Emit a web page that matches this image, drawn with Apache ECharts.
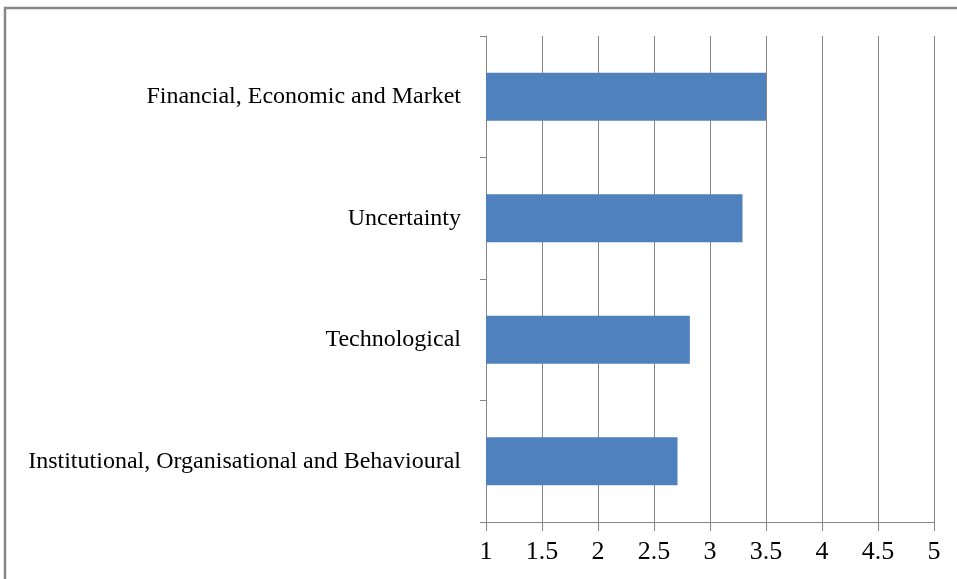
<!DOCTYPE html>
<html>
<head>
<meta charset="utf-8">
<script src="https://cdn.jsdelivr.net/npm/echarts@6/dist/echarts.min.js"></script>
<style>html,body{margin:0;padding:0;background:#fff}#c{width:957px;height:579px}</style>
</head>
<body>
<div id="c"></div>
<script>
const categories = ["Financial, Economic and Market", "Uncertainty", "Technological", "Institutional, Organisational and Behavioural"];
const values = [3.5, 3.29, 2.82, 2.71];
const xMin = 1, xMax = 5, xStep = 0.5;

const chart = echarts.init(document.getElementById('c'), null, {renderer: 'canvas'});
chart.setOption({
  animation: false,
  backgroundColor: '#fff',
  graphic: [{
    type: 'rect',
    shape: {x: 5, y: 8, width: 1000, height: 700},
    style: {fill: 'none', stroke: '#878787', lineWidth: 2.5},
    silent: true
  }],
  grid: {left: 486, right: 23, top: 36, bottom: 57, containLabel: false},
  xAxis: {
    type: 'value', min: xMin, max: xMax, interval: xStep,
    axisLine: {show: true, lineStyle: {color: '#868686', width: 1}},
    axisTick: {show: true, length: 9, lineStyle: {color: '#868686'}},
    splitLine: {show: true, lineStyle: {color: '#868686', width: 1}},
    axisLabel: {color: '#000', fontFamily: 'Liberation Serif', fontSize: 26, margin: 17}
  },
  yAxis: {
    type: 'category', data: categories, inverse: true,
    axisLine: {show: true, lineStyle: {color: '#868686', width: 1}},
    axisTick: {show: true, length: 6, alignWithLabel: false, lineStyle: {color: '#868686'}},
    axisLabel: {color: '#000', fontFamily: 'Liberation Serif', fontSize: 24, margin: 25}
  },
  series: [{
    type: 'bar', data: values, barWidth: 48,
    itemStyle: {color: '#4F81BD'}
  }]
});
</script>
</body>
</html>
